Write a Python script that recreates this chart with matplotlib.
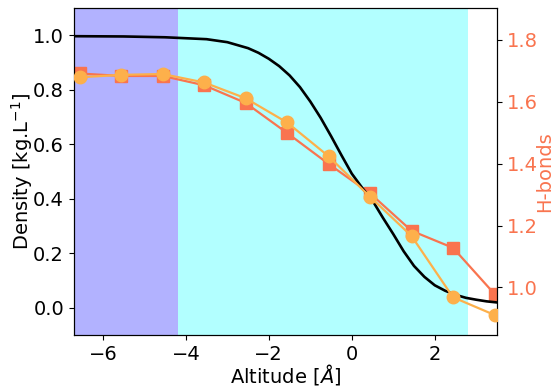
import numpy as np
import matplotlib
matplotlib.use("Agg")
import matplotlib.pyplot as plt

# --- data ---
altitude_pts = [-6.56, -5.56, -4.56, -3.56, -2.56, -1.56, -0.56, 0.44, 1.44, 2.44, 3.44]
density_pts = [0.846, 0.855, 0.858, 0.827, 0.769, 0.680, 0.556, 0.407, 0.263, 0.038, -0.027]
hbonds_pts = [1.691, 1.683, 1.683, 1.653, 1.596, 1.499, 1.399, 1.304, 1.183, 1.128, 0.979]

fit_x = [-6.7, -5.5, -4.5, -3.5, -3.0, -2.5, -2.25, -2.0, -1.75, -1.5, -1.25, -1.0, -0.75,
         -0.5, -0.25, 0.0, 0.25, 0.5, 0.75, 1.0, 1.25, 1.5, 1.75, 2.0, 2.25, 2.5,
         2.75, 3.0, 3.25, 3.5]
fit_y = [0.997, 0.996, 0.993, 0.986, 0.975, 0.953, 0.936, 0.914, 0.887, 0.853, 0.810, 0.757, 0.697,
         0.630, 0.560, 0.492, 0.440, 0.393, 0.330, 0.270, 0.207, 0.153, 0.113, 0.082, 0.062, 0.047,
         0.036, 0.029, 0.023, 0.019]

span_solid = (-8.0, -4.2)
span_interface = (-4.2, 2.8)

xticks = [-6, -4, -2, 0, 2]
yticks_left = [0.0, 0.2, 0.4, 0.6, 0.8, 1.0]
yticks_right = [1.0, 1.2, 1.4, 1.6, 1.8]

sq_color = '#f9744f'
ci_color = '#fdb04b'

plt.rcParams['font.family'] = ['DejaVu Sans']
plt.rcParams['font.size'] = 14

fig = plt.figure(figsize=(5.51, 3.88), dpi=100)
ax1 = fig.add_axes([0.134, 0.137, 0.768, 0.842])
ax2 = ax1.twinx()

ax2.axvspan(*span_solid, color='blue', alpha=0.3, lw=0, zorder=0)
ax2.axvspan(*span_interface, color='cyan', alpha=0.3, lw=0, zorder=0)
ax2.plot(altitude_pts, hbonds_pts, color=sq_color, marker='s', markersize=8, lw=1.6, zorder=2)

ax1.set_zorder(ax2.get_zorder() + 1)
ax1.patch.set_visible(False)
ax1.plot(fit_x, fit_y, color='black', lw=1.9, zorder=2, solid_joinstyle='round')
ax1.plot(altitude_pts, density_pts, color=ci_color, marker='o', markersize=9, lw=1.6, zorder=3)

ax1.set_xlim(-6.7, 3.5)
ax1.set_ylim(-0.1, 1.1)
ax2.set_ylim(0.847, 1.902)
ax1.set_xticks(xticks)
ax1.set_yticks(yticks_left)
ax2.set_yticks(yticks_right)
ax1.set_xticklabels(['\u22126', '\u22124', '\u22122', '0', '2'])
ax1.set_yticklabels(['0.0', '0.2', '0.4', '0.6', '0.8', '1.0'])
ax2.set_yticklabels(['1.0', '1.2', '1.4', '1.6', '1.8'])

ax1.set_xlabel(r'Altitude [$\AA$]', labelpad=-1)
ax1.set_ylabel(r'Density [kg.L$^{-1}$]', labelpad=-1)
ax2.set_ylabel('H-bonds', color=sq_color, labelpad=-2)
ax2.tick_params(axis='y', labelcolor=sq_color)

fig.savefig('out.png', dpi=100)
